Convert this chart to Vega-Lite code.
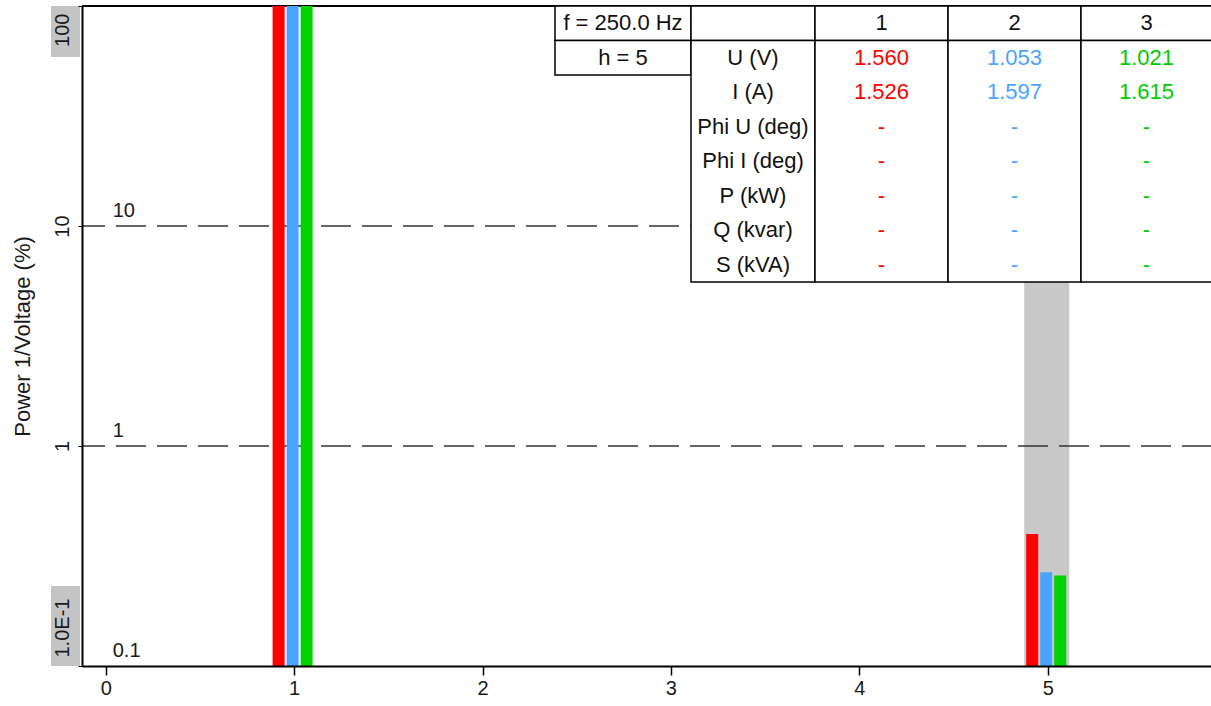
{
  "$schema": "https://vega.github.io/schema/vega-lite/v6.json",
  "width": 1130,
  "height": 660,
  "autosize": "none",
  "padding": {"left": 82, "top": 6, "right": 0, "bottom": 40},
  "background": "white",
  "config": {
    "view": {"stroke": null},
    "font": "Liberation Sans",
    "axis": {"grid": false}
  },
  "datasets": {
    "bars": [
      {"h": 1, "phase": "1", "value": 100},
      {"h": 1, "phase": "2", "value": 100},
      {"h": 1, "phase": "3", "value": 100},
      {"h": 5, "phase": "1", "value": 0.398},
      {"h": 5, "phase": "2", "value": 0.267},
      {"h": 5, "phase": "3", "value": 0.258}
    ],
    "selected": [{"h": 5}],
    "grid": [{"v": 1}, {"v": 10}],
    "gridLabels": [
      {"v": 0.1, "label": "0.1"},
      {"v": 1, "label": "1"},
      {"v": 10, "label": "10"}
    ],
    "labelBoxes": [
      {"lo": 58.6, "hi": 100},
      {"lo": 0.1, "hi": 0.231}
    ],
    "cells": [
      {"c0": -0.5, "c1": 0.5, "r0": -0.5, "r1": 0.5},
      {"c0": -0.5, "c1": 0.5, "r0": 0.5, "r1": 1.5},
      {"c0": 0.5, "c1": 1.5, "r0": -0.5, "r1": 0.5},
      {"c0": 1.5, "c1": 2.5, "r0": -0.5, "r1": 0.5},
      {"c0": 2.5, "c1": 3.5, "r0": -0.5, "r1": 0.5},
      {"c0": 3.5, "c1": 4.5, "r0": -0.5, "r1": 0.5},
      {"c0": 0.5, "c1": 1.5, "r0": 0.5, "r1": 7.5},
      {"c0": 1.5, "c1": 2.5, "r0": 0.5, "r1": 7.5},
      {"c0": 2.5, "c1": 3.5, "r0": 0.5, "r1": 7.5},
      {"c0": 3.5, "c1": 4.5, "r0": 0.5, "r1": 7.5}
    ],
    "texts": [
      {"col": 0, "row": 0, "t": "f = 250.0 Hz", "kind": "text"},
      {"col": 0, "row": 1, "t": "h = 5", "kind": "text"},
      {"col": 2, "row": 0, "t": "1", "kind": "text"},
      {"col": 3, "row": 0, "t": "2", "kind": "text"},
      {"col": 4, "row": 0, "t": "3", "kind": "text"},
      {"col": 1, "row": 1, "t": "U (V)", "kind": "text"},
      {"col": 1, "row": 2, "t": "I (A)", "kind": "text"},
      {"col": 1, "row": 3, "t": "Phi U (deg)", "kind": "text"},
      {"col": 1, "row": 4, "t": "Phi I (deg)", "kind": "text"},
      {"col": 1, "row": 5, "t": "P (kW)", "kind": "text"},
      {"col": 1, "row": 6, "t": "Q (kvar)", "kind": "text"},
      {"col": 1, "row": 7, "t": "S (kVA)", "kind": "text"},
      {"col": 2, "row": 1, "t": "1.560", "kind": "L1"},
      {"col": 2, "row": 2, "t": "1.526", "kind": "L1"},
      {"col": 2, "row": 3, "t": "-", "kind": "L1"},
      {"col": 2, "row": 4, "t": "-", "kind": "L1"},
      {"col": 2, "row": 5, "t": "-", "kind": "L1"},
      {"col": 2, "row": 6, "t": "-", "kind": "L1"},
      {"col": 2, "row": 7, "t": "-", "kind": "L1"},
      {"col": 3, "row": 1, "t": "1.053", "kind": "L2"},
      {"col": 3, "row": 2, "t": "1.597", "kind": "L2"},
      {"col": 3, "row": 3, "t": "-", "kind": "L2"},
      {"col": 3, "row": 4, "t": "-", "kind": "L2"},
      {"col": 3, "row": 5, "t": "-", "kind": "L2"},
      {"col": 3, "row": 6, "t": "-", "kind": "L2"},
      {"col": 3, "row": 7, "t": "-", "kind": "L2"},
      {"col": 4, "row": 1, "t": "1.021", "kind": "L3"},
      {"col": 4, "row": 2, "t": "1.615", "kind": "L3"},
      {"col": 4, "row": 3, "t": "-", "kind": "L3"},
      {"col": 4, "row": 4, "t": "-", "kind": "L3"},
      {"col": 4, "row": 5, "t": "-", "kind": "L3"},
      {"col": 4, "row": 6, "t": "-", "kind": "L3"},
      {"col": 4, "row": 7, "t": "-", "kind": "L3"}
    ]
  },
  "layer": [
    {
      "layer": [
        {
          "data": {"name": "labelBoxes"},
          "mark": {"type": "rect", "color": "#c4c4c4"},
          "encoding": {
            "x": {
              "datum": -0.2903,
              "type": "quantitative",
              "scale": {"domain": [-0.1258, 5.872], "zero": false, "nice": false, "padding": 0},
              "axis": {
                "values": [0, 1, 2, 3, 4, 5],
                "format": "d",
                "title": null,
                "zindex": 1,
                "domainColor": "#000000",
                "domainWidth": 2,
                "tickColor": "#000000",
                "tickWidth": 1.5,
                "tickSize": 9,
                "labelPadding": 3,
                "labelFontSize": 20,
                "labelColor": "#1a1a1a",
                "labelFlush": false
              }
            },
            "x2": {"datum": -0.1364},
            "y": {
              "field": "lo",
              "type": "quantitative",
              "scale": {"type": "log", "domain": [0.1, 100], "nice": false, "padding": 0},
              "axis": {
                "values": [0.1, 1, 10, 100],
                "title": "Power 1/Voltage (%)",
                "titleFontSize": 22,
                "titleFontWeight": "normal",
                "titleColor": "#1a1a1a",
                "titlePadding": 18,
                "zindex": 1,
                "labelExpr": "datum.value < 0.5 ? '1.0E-1' : datum.label",
                "labelAngle": -90,
                "labelFlush": false,
                "labelOverlap": false,
                "labelFontSize": 20,
                "labelColor": "#1a1a1a",
                "labelBaseline": "alphabetic",
                "labelAlign": {
                  "condition": [
                    {"test": "datum.value >= 50", "value": "right"},
                    {"test": "datum.value < 0.5", "value": "left"}
                  ],
                  "value": "center"
                },
                "labelOffset": {
                  "condition": [
                    {"test": "datum.value >= 50", "value": 7},
                    {"test": "datum.value < 0.5", "value": -9}
                  ],
                  "value": 0
                },
                "labelPadding": 10,
                "tickSize": 4,
                "tickColor": "#000000",
                "tickWidth": 1,
                "domainColor": "#000000",
                "domainWidth": 2
              }
            },
            "y2": {"field": "hi"}
          }
        },
        {
          "data": {"name": "selected"},
          "mark": {"type": "bar", "color": "#c8c8c8", "width": 45, "xOffset": -1},
          "encoding": {
            "x": {"field": "h", "type": "quantitative"},
            "y": {"datum": 100, "type": "quantitative"},
            "y2": {"datum": 0.1}
          }
        },
        {
          "data": {"name": "grid"},
          "mark": {"type": "rule", "color": "#333333", "strokeWidth": 1.5, "strokeDash": [30, 11]},
          "encoding": {
            "y": {"field": "v", "type": "quantitative"}
          }
        },
        {
          "data": {"name": "gridLabels"},
          "mark": {"type": "text", "align": "left", "baseline": "alphabetic", "dx": 7, "dy": -9.5, "fontSize": 20, "color": "#1a1a1a"},
          "encoding": {
            "x": {"datum": 0, "type": "quantitative"},
            "y": {"field": "v", "type": "quantitative"},
            "text": {"field": "label"}
          }
        },
        {
          "data": {"name": "selected"},
          "mark": {"type": "rule", "color": "#000000", "strokeWidth": 2},
          "encoding": {
            "y": {"datum": 100, "type": "quantitative"}
          }
        },
        {
          "data": {"name": "bars"},
          "transform": [{"filter": "datum.phase == '1'"}],
          "mark": {"type": "bar", "width": 12, "xOffset": -15.5, "color": "#ff0000"},
          "encoding": {
            "x": {"field": "h", "type": "quantitative"},
            "y": {"field": "value", "type": "quantitative"},
            "y2": {"datum": 0.1}
          }
        },
        {
          "data": {"name": "bars"},
          "transform": [{"filter": "datum.phase == '2'"}],
          "mark": {"type": "bar", "width": 12, "xOffset": -1.5, "color": "#4aa3ff"},
          "encoding": {
            "x": {"field": "h", "type": "quantitative"},
            "y": {"field": "value", "type": "quantitative"},
            "y2": {"datum": 0.1}
          }
        },
        {
          "data": {"name": "bars"},
          "transform": [{"filter": "datum.phase == '3'"}],
          "mark": {"type": "bar", "width": 12, "xOffset": 12.5, "color": "#00d400"},
          "encoding": {
            "x": {"field": "h", "type": "quantitative"},
            "y": {"field": "value", "type": "quantitative"},
            "y2": {"datum": 0.1}
          }
        }
      ]
    },
    {
      "layer": [
        {
          "data": {"name": "cells"},
          "mark": {"type": "rect", "fill": "#ffffff", "stroke": "#000000", "strokeWidth": 1.5},
          "encoding": {
            "x": {
              "field": "c0",
              "type": "quantitative",
              "scale": {"domain": [-0.5, 0.5, 1.5, 2.5, 3.5, 4.5], "range": [473, 609, 733, 866, 999, 1130], "zero": false, "nice": false},
              "axis": null
            },
            "x2": {"field": "c1"},
            "y": {
              "field": "r0",
              "type": "quantitative",
              "scale": {"domain": [-0.5, 7.5], "range": [0, 276], "zero": false, "nice": false},
              "axis": null
            },
            "y2": {"field": "r1"}
          }
        },
        {
          "data": {"name": "texts"},
          "mark": {"type": "text", "fontSize": 22, "align": "center", "baseline": "middle"},
          "encoding": {
            "x": {"field": "col", "type": "quantitative"},
            "y": {"field": "row", "type": "quantitative"},
            "text": {"field": "t"},
            "color": {
              "field": "kind",
              "type": "nominal",
              "scale": {"domain": ["text", "L1", "L2", "L3"], "range": ["#111111", "#ff0000", "#4aa3ff", "#00cc00"]},
              "legend": null
            }
          }
        }
      ]
    }
  ],
  "resolve": {"scale": {"x": "independent", "y": "independent"}}
}
